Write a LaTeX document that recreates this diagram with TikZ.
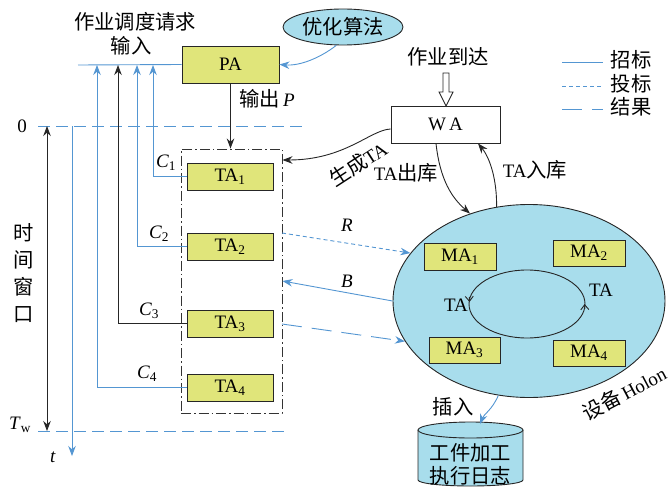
\documentclass[tikz,border=0pt]{standalone}
\usepackage{fontspec}
\setmainfont{Liberation Serif}
\newfontfamily\cjk[Scale=1.07]{Noto Sans CJK SC}
\usetikzlibrary{arrows.meta,shapes.geometric}
\definecolor{lblue}{RGB}{84,150,210}
\definecolor{boxy}{RGB}{224,229,122}
\definecolor{ellb}{RGB}{168,221,236}
\tikzset{
  agent/.style={draw=black!85, fill=boxy, line width=0.9pt, minimum width=86pt, minimum height=27pt, inner sep=0pt},
  bl/.style={draw=lblue, line width=0.9pt},
  bk/.style={draw=black!85, line width=0.9pt},
  arr/.style={-{Stealth[length=10pt,width=7.5pt]}},
  tipb/.style={-{Stealth[length=10pt,width=7.5pt,fill=lblue]}},
  bidline/.style={dash pattern=on 4pt off 3pt},
  resline/.style={dash pattern=on 20pt off 10pt},
  axisdash/.style={draw=lblue, line width=0.9pt, dash pattern=on 12pt off 6pt},
  lab/.style={inner sep=1pt},
}
\begin{document}
\begin{tikzpicture}[x=1pt,y=-1pt, font=\fontsize{19}{21}\selectfont]
\useasboundingbox (0,0) rectangle (671,487);

% top texts
\node[lab] (req) at (135,22) {\cjk 作业调度请求};
\node[lab] (inp) at (131,46) {\cjk 输入};
\node[lab] (arrive) at (448,57) {\cjk 作业到达};

% optimization ellipse
\node[ellipse, draw=black!85, fill=ellb, line width=0.9pt, minimum width=120pt, minimum height=36pt, inner sep=0pt] (opt) at (343,27) {\cjk 优化算法};

% PA
\node[agent, minimum width=97pt, minimum height=37pt] (PA) at (230.5,64.5) {PA};
\draw[bl, tipb] (opt.250) .. controls (320,58) and (300,66) .. (PA.east);

% time lines
\node[lab] (zero) at (22,126) {0};
\node[lab] (Tw) at (20,425) {\textit{T}\textsubscript{w}};
\node[lab] (tl) at (53,457) {\textit{t}};
\coordinate (z0) at (38,126);
\coordinate (z1) at (305,126);
\coordinate (w0) at (38,431);
\coordinate (w1) at (288,431);
\draw[axisdash] (z0) -- (z1);
\draw[axisdash] (w0) -- (w1);
\coordinate (ta0) at (47,126);
\coordinate (ta1) at (47,431);
\draw[bk, {Stealth[length=10pt,width=7.5pt]}-{Stealth[length=10pt,width=7.5pt]}] (ta0) -- (ta1);
\coordinate (tb0) at (72,126);
\coordinate (tb1) at (72,456);
\draw[bl, tipb] (tb0) -- (tb1);
\node[lab, align=center, font=\fontsize{19}{27}\selectfont\cjk] (tw) at (24,273) {时\\间\\窗\\口};

% TA group
\node[draw=black!80, line width=0.9pt, dash pattern=on 10pt off 3pt on 1.5pt off 3pt, minimum width=101pt, minimum height=264pt, inner sep=0pt] (grp) at (231.5,281) {};
\node[agent] (TA1) at (230,176.5) {TA\textsubscript{1}};
\node[agent] (TA2) at (230,246.5) {TA\textsubscript{2}};
\node[agent] (TA3) at (230,323.5) {TA\textsubscript{3}};
\node[agent] (TA4) at (230,387.5) {TA\textsubscript{4}};

% top input line and returns
\coordinate (in0) at (78,65);
\draw[bl] (in0) -- (PA.west);
\coordinate (u1) at (153,65);
\coordinate (u2) at (137,65);
\coordinate (u3) at (118,65);
\coordinate (u4) at (97,65);
\draw[bl, tipb] (TA1.west) -| (u1);
\draw[bl, tipb] (TA2.west) -| (u2);
\draw[bk, arr] (TA3.west) -| (u3);
\draw[bl, tipb] (TA4.west) -| (u4);
\node[lab] (c1) at (166,163) {\textit{C}\textsubscript{1}};
\node[lab] (c2) at (159,234) {\textit{C}\textsubscript{2}};
\node[lab] (c3) at (149,311) {\textit{C}\textsubscript{3}};
\node[lab] (c4) at (147,374) {\textit{C}\textsubscript{4}};

% PA output
\draw[bk, arr] (PA.south) -- (PA.south |- grp.north);
\node[lab] (outP) at (267,99) {{\cjk 输出}\,\textit{P}};

% WA
\node[draw=black!85, fill=white, line width=0.9pt, minimum width=109pt, minimum height=37pt, inner sep=0pt] (WA) at (445.5,124.5) {W\,A};
\draw[black!85, line width=0.9pt, fill=white] (443,73) -- (449,73) -- (449,92) -- (453,92) -- (446,106) -- (439,92) -- (443,92) -- cycle;

% Holon
\node[ellipse, draw=black!85, fill=ellb, line width=0.9pt, minimum width=272pt, minimum height=193pt, inner sep=0pt] (holon) at (529,301) {};
\draw[black!85, line width=0.9pt] (527,304) ellipse [x radius=58, y radius=34];
\draw[black!85, line width=0.9pt, -{Straight Barb[length=5pt,width=8pt]}] (469.3,297) -- (469.5,302);
\draw[black!85, line width=0.9pt, -{Straight Barb[length=5pt,width=8pt]}] (584.8,309) -- (584.6,304);
\node[lab] (tal) at (456,305) {TA};
\node[lab] (tar) at (601,290) {TA};
\node[agent, minimum width=72pt] (MA1) at (460,256.5) {MA\textsubscript{1}};
\node[agent, minimum width=72pt, minimum height=26pt] (MA2) at (589,253) {MA\textsubscript{2}};
\node[agent, minimum width=71pt, minimum height=26pt] (MA3) at (464.5,350) {MA\textsubscript{3}};
\node[agent, minimum width=72pt, minimum height=26pt] (MA4) at (589,353) {MA\textsubscript{4}};
\node[lab, rotate=28] (hl) at (624,393) {{\cjk 设备}\,Holon};

% WA connections
\draw[bk, arr] (WA.west |- 0,129) .. controls (370,130) and (345,160) .. (grp.north east |- 0,160);
\node[lab, rotate=33] (gen) at (358,164) {{\cjk 生成}TA};
\draw[bk, arr] (WA.south west -| 436,143) .. controls (440,180) and (452,198) .. (holon.124);
\draw[bk, arr] (holon.109) .. controls (497,180) and (490,158) .. (WA.south -| 478,143);
\node[lab] (out) at (406,173) {TA{\cjk 出库}};
\node[lab] (inn) at (535,170) {TA{\cjk 入库}};

% bid / result arrows
\coordinate (r0) at (282,233);
\draw[bl, bidline, tipb] (r0) -- (holon.158);
\node[lab] (R) at (347,225) {\textit{R}};
\draw[bl, tipb] (holon.west) -- (grp.east);
\node[lab] (B) at (347,281) {\textit{B}};
\coordinate (d0) at (282,324);
\draw[bl, resline, tipb] (d0) -- (holon.198);

% log cylinder
\draw[black!85, line width=0.9pt, fill=ellb] (418,430) -- (418,480) arc[start angle=180, end angle=0, x radius=52.5, y radius=6] -- (523,430);
\draw[black!85, line width=0.9pt, fill=ellb] (470.5,430) ellipse [x radius=52.5, y radius=8];
\node[lab, align=center, font=\fontsize{19}{23}\selectfont\cjk] (log) at (470.5,464) {工件加工\\执行日志};
\coordinate (logtop) at (480,424);
\draw[bl, tipb] (holon.252) .. controls (492,410) and (484,414) .. (logtop);
\node[lab] (ins) at (453,407) {\cjk 插入};

% legend
\coordinate (l1a) at (562,62); \coordinate (l1b) at (603,62);
\coordinate (l2a) at (562,86); \coordinate (l2b) at (603,86);
\coordinate (l3a) at (562,109); \coordinate (l3b) at (603,109);
\draw[bl] (l1a) -- (l1b);
\draw[bl, bidline] (l2a) -- (l2b);
\draw[bl, dash pattern=on 20pt off 10pt] (l3a) -- (l3b);
\node[lab] (lg1) at (631,60) {\cjk 招标};
\node[lab] (lg2) at (631,84) {\cjk 投标};
\node[lab] (lg3) at (631,107) {\cjk 结果};
\end{tikzpicture}
\end{document}
